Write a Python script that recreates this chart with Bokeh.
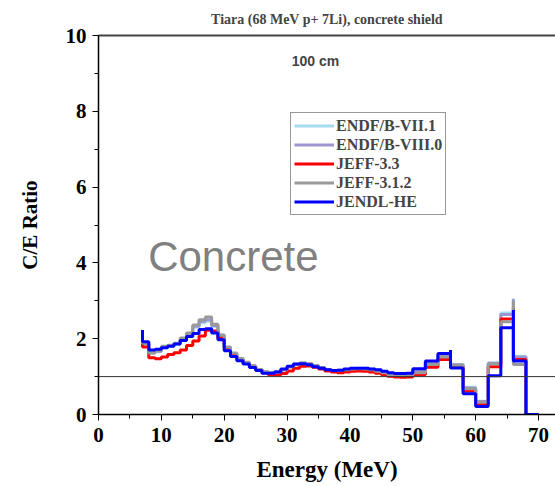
from bokeh.plotting import figure
from bokeh.models import (Range1d, SingleIntervalTicker, FixedTicker, LinearAxis, Span, Label,
                          Legend, LegendItem, ColumnDataSource)
from bokeh.embed import file_html
from bokeh.resources import INLINE

# Bin upper edges (MeV); repeated edges mark the narrow spikes
energy = [7, 8, 9, 10, 11, 12, 13, 14, 15, 16, 17, 18, 19, 20, 21, 22, 23, 24, 25,
          26, 27, 28, 29, 30, 31, 32, 33, 34, 35, 36, 37, 38, 39, 40, 41, 42, 43, 44,
          45, 46, 47, 48, 49, 50, 52, 54, 56, 56, 58, 60, 62, 64, 66, 66, 68, 70]

endf_b_vii1 = [2.02, 1.86, 1.62, 1.66, 1.76, 1.80, 1.86, 1.98, 2.12, 2.30, 2.42, 2.46, 2.32,
               2.08, 1.76, 1.60, 1.47, 1.37, 1.27, 1.18, 1.12, 1.10, 1.12, 1.18, 1.26, 1.33,
               1.36, 1.33, 1.28, 1.23, 1.19, 1.16, 1.17, 1.19, 1.21, 1.22, 1.22, 1.20, 1.17,
               1.13, 1.09, 1.07, 1.07, 1.08, 1.18, 1.40, 1.58, 1.62, 1.32, 0.72, 0.35, 1.36,
               2.68, 3.06, 1.54, 0.0]
endf_b_viii0 = [2.04, 1.87, 1.63, 1.67, 1.78, 1.82, 1.87, 2.00, 2.14, 2.33, 2.46, 2.50, 2.35,
                2.09, 1.77, 1.61, 1.47, 1.37, 1.28, 1.19, 1.12, 1.10, 1.12, 1.18, 1.26, 1.32,
                1.35, 1.33, 1.28, 1.23, 1.19, 1.16, 1.17, 1.19, 1.21, 1.21, 1.21, 1.19, 1.16,
                1.12, 1.08, 1.06, 1.06, 1.07, 1.16, 1.38, 1.57, 1.60, 1.31, 0.70, 0.34, 1.35,
                2.64, 3.04, 1.52, 0.0]
jeff_33 = [1.92, 1.78, 1.50, 1.47, 1.52, 1.58, 1.63, 1.70, 1.82, 1.94, 2.07, 2.22, 2.20,
           2.02, 1.75, 1.57, 1.45, 1.36, 1.27, 1.18, 1.10, 1.05, 1.04, 1.08, 1.15, 1.22,
           1.27, 1.28, 1.25, 1.20, 1.15, 1.12, 1.10, 1.12, 1.14, 1.15, 1.14, 1.12, 1.09,
           1.05, 1.01, 0.99, 0.98, 0.99, 1.05, 1.25, 1.45, 1.48, 1.26, 0.62, 0.27, 1.26,
           2.52, 2.82, 1.45, 0.0]
jeff_312 = [2.05, 1.88, 1.62, 1.68, 1.80, 1.83, 1.88, 2.02, 2.15, 2.36, 2.50, 2.57, 2.38,
            2.10, 1.78, 1.62, 1.48, 1.38, 1.28, 1.19, 1.13, 1.10, 1.12, 1.18, 1.26, 1.32,
            1.36, 1.34, 1.29, 1.24, 1.19, 1.16, 1.16, 1.18, 1.20, 1.21, 1.20, 1.18, 1.14,
            1.10, 1.05, 1.03, 1.03, 1.04, 1.10, 1.32, 1.52, 1.55, 1.30, 0.68, 0.32, 1.33,
            2.45, 3.00, 1.32, 0.0]
jendl_he = [2.23, 1.92, 1.70, 1.72, 1.76, 1.80, 1.86, 1.95, 2.06, 2.14, 2.24, 2.26, 2.15,
            1.97, 1.68, 1.53, 1.42, 1.33, 1.24, 1.16, 1.09, 1.09, 1.12, 1.20, 1.27, 1.33,
            1.34, 1.31, 1.26, 1.22, 1.18, 1.16, 1.17, 1.20, 1.22, 1.22, 1.22, 1.20, 1.18,
            1.14, 1.10, 1.08, 1.08, 1.09, 1.21, 1.41, 1.61, 1.70, 1.23, 0.55, 0.21, 1.02,
            2.29, 2.76, 1.41, 0.0]

series_names = ["ENDF/B-VII.1", "ENDF/B-VIII.0", "JEFF-3.3", "JEFF-3.1.2", "JENDL-HE"]
series_values = [endf_b_vii1, endf_b_viii0, jeff_33, jeff_312, jendl_he]
series_colors = ["#a6dcf0", "#9e96d2", "#ff0000", "#999999", "#0000ff"]

x_ticks_interval = 10
y_ticks_interval = 2

SERIF = "Liberation Serif"
SANS = "Liberation Sans"

p = figure(width=555, height=486, output_backend="svg", toolbar_location=None,
           x_range=Range1d(0, 72.7), y_range=Range1d(0, 10),
           min_border_left=98, min_border_right=0, min_border_top=35, min_border_bottom=72)
p.outline_line_color = None
p.grid.visible = False
p.background_fill_color = "white"
p.border_fill_color = "white"

p.title.text = "Tiara (68 MeV p+ 7Li), concrete shield"
p.title.text_font = SERIF
p.title.text_font_size = "14px"
p.title.text_font_style = "bold"
p.title.align = "center"
p.title.standoff = 18

xa = p.xaxis[0]
xa.ticker = SingleIntervalTicker(interval=x_ticks_interval, num_minor_ticks=2)
xa.axis_label = "Energy (MeV)"
ya = p.yaxis[0]
ya.ticker = SingleIntervalTicker(interval=y_ticks_interval, num_minor_ticks=2)
ya.axis_label = "C/E Ratio"
for ax in (xa, ya):
    ax.axis_line_color = "black"
    ax.axis_line_width = 1.5
    ax.major_tick_line_color = "black"
    ax.minor_tick_line_color = "black"
    ax.major_tick_out = 6
    ax.major_tick_in = 0
    ax.minor_tick_out = 4
    ax.minor_tick_in = 0
    ax.major_label_text_font = SERIF
    ax.major_label_text_font_style = "bold"
    ax.major_label_text_font_size = "21px"
    ax.major_label_text_color = "black"
    ax.axis_label_text_font = SERIF
    ax.axis_label_text_font_style = "bold"
    ax.axis_label_text_color = "black"
xa.axis_label_text_font_size = "23px"
ya.axis_label_text_font_size = "21px"
xa.major_label_standoff = 7
xa.axis_label_standoff = 12
ya.major_label_standoff = 6
ya.axis_label_standoff = 21

top = LinearAxis(ticker=FixedTicker(ticks=[]), major_tick_line_color=None,
                 minor_tick_line_color=None, axis_line_color="#444444", axis_line_width=2)
p.add_layout(top, "above")

p.add_layout(Span(location=1, dimension="width", line_color="#333333", line_width=1))

items = []
for name, vals, col in zip(series_names, series_values, series_colors):
    src = ColumnDataSource(dict(x=energy, y=vals))
    r = p.step("x", "y", source=src, mode="before", line_color=col, line_width=3)
    items.append(LegendItem(label=name, renderers=[r]))

legend = Legend(items=items, location=(192, 199), border_line_color="#333333",
                border_line_width=1, background_fill_alpha=1,
                label_text_font=SERIF, label_text_font_style="bold",
                label_text_font_size="16px", glyph_width=40, glyph_height=19,
                label_height=19, label_standoff=2, spacing=0, padding=3, margin=0)
p.add_layout(legend)

p.add_layout(Label(x=34.5, y=9.32, text="100 cm", text_font=SANS, text_font_style="bold",
                   text_font_size="14px", text_align="center", text_baseline="middle"))
p.add_layout(Label(x=7.9, y=4.18, text="Concrete", text_font=SANS,
                   text_font_size="42px", text_color="#808080", text_baseline="middle"))

open("out.html", "w").write(file_html(p, INLINE))
